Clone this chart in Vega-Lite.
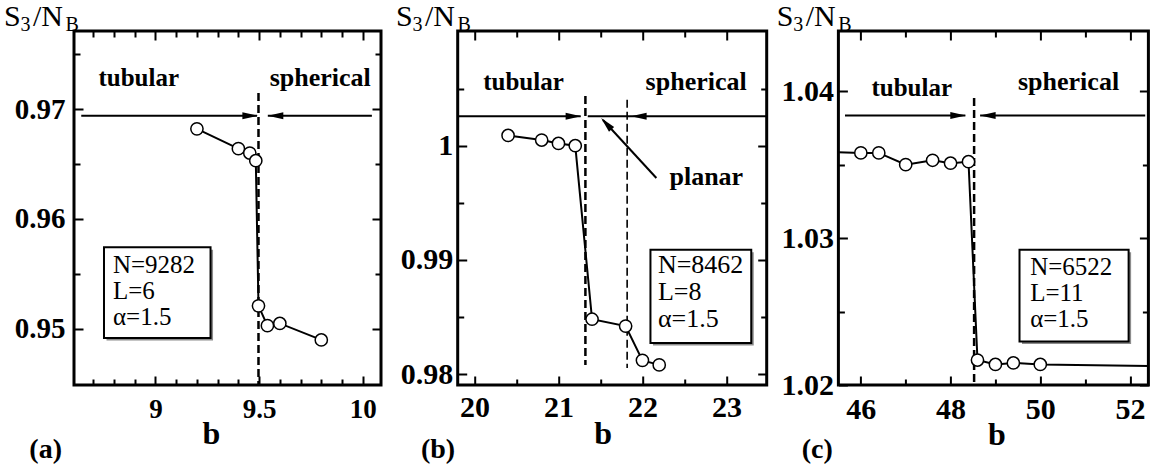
{
  "$schema": "https://vega.github.io/schema/vega-lite/v6.json",
  "background": "white",
  "padding": {"left": 2, "top": 0, "right": 0, "bottom": 0},
  "autosize": {"type": "pad"},
  "config": {
    "view": {"stroke": "black", "strokeWidth": 3},
    "text": {"font": "Liberation Serif", "fontWeight": "normal", "fill": "black"},
    "axis": {
      "domain": false, "grid": false, "tickColor": "black", "tickWidth": 2,
      "labelColor": "black", "labelFont": "Liberation Serif", "labelFontWeight": "bold", "labelFlush": false,
      "labelOverlap": false, "labelBound": false, "minExtent": 0,
      "titleFont": "Liberation Serif", "titleFontWeight": "bold", "titleFontSize": 32, "titleColor": "black"
    }
  },
  "datasets": {
    "one": [{}],
    "a": [
      {"b": 9.2, "s": 0.9682}, {"b": 9.4, "s": 0.9664}, {"b": 9.455, "s": 0.966},
      {"b": 9.484, "s": 0.9653}, {"b": 9.497, "s": 0.9521}, {"b": 9.54, "s": 0.9503},
      {"b": 9.6, "s": 0.9505}, {"b": 9.8, "s": 0.949}
    ],
    "b": [
      {"b": 20.4, "s": 1.0009}, {"b": 20.8, "s": 1.0005}, {"b": 21.0, "s": 1.0002},
      {"b": 21.2, "s": 1.0}, {"b": 21.4, "s": 0.9848}, {"b": 21.8, "s": 0.9842},
      {"b": 22.0, "s": 0.9812}, {"b": 22.2, "s": 0.9808}
    ],
    "c": [
      {"b": 45.0, "s": 1.0359}, {"b": 46.0, "s": 1.0358}, {"b": 46.4, "s": 1.0358},
      {"b": 47.0, "s": 1.035}, {"b": 47.6, "s": 1.0353}, {"b": 48.0, "s": 1.0351},
      {"b": 48.4, "s": 1.0352}, {"b": 48.6, "s": 1.0217}, {"b": 49.0, "s": 1.0214},
      {"b": 49.4, "s": 1.0215}, {"b": 50.0, "s": 1.0214}, {"b": 53.0, "s": 1.02127}
    ]
  },
  "bounds": "flush",
  "spacing": 76.7,
  "hconcat": [
    {
      "width": 307, "height": 354,
      "resolve": {"axis": {"x": "independent", "y": "independent"}},
      "layer": [
        {"data": {"name": "one"}, "mark": {"type": "rect", "fill": "#8c8c8c", "xOffset": 2.5, "x2Offset": 2.5, "yOffset": 2.5, "y2Offset": 2.5},
         "encoding": {"x": {"datum": 8.7517, "axis": null}, "x2": {"datum": 9.2657}, "y": {"datum": 0.95743, "axis": null}, "y2": {"datum": 0.94918}}},
        {"data": {"name": "one"}, "mark": {"type": "rect", "fill": "white", "stroke": "black", "strokeWidth": 2},
         "encoding": {"x": {"datum": 8.7517, "axis": null}, "x2": {"datum": 9.2657}, "y": {"datum": 0.95743, "axis": null}, "y2": {"datum": 0.94918}}},
        {"data": {"name": "one"}, "mark": {"type": "text", "text": ["N=9282", "L=6", "α=1.5"], "align": "left", "baseline": "alphabetic", "fontSize": 25, "lineHeight": 26},
         "encoding": {"x": {"datum": 8.795, "axis": null}, "y": {"datum": 0.95509, "axis": null}}},
        {"data": {"name": "one"}, "mark": {"type": "rule", "color": "black", "strokeWidth": 2.5, "strokeDash": [8, 4]},
         "encoding": {"x": {"datum": 9.497, "axis": null}, "y": {"datum": 0.97145, "axis": null}, "y2": {"datum": 0.9449}}},
        {"data": {"name": "one"}, "mark": {"type": "rule", "color": "black", "strokeWidth": 2},
         "encoding": {"x": {"datum": 8.642, "axis": null}, "x2": {"datum": 9.49}, "y": {"datum": 0.96939, "axis": null}}},
        {"data": {"name": "one"}, "mark": {"type": "rule", "color": "black", "strokeWidth": 2},
         "encoding": {"x": {"datum": 9.542, "axis": null}, "x2": {"datum": 10.044}, "y": {"datum": 0.96939, "axis": null}}},
        {"data": {"name": "one"}, "mark": {"type": "point", "shape": "M0,0L-2,-0.45L-2,0.45Z", "filled": true, "color": "black", "size": 240, "opacity": 1},
         "encoding": {"x": {"datum": 9.494, "axis": null}, "y": {"datum": 0.96939, "axis": null}}},
        {"data": {"name": "one"}, "mark": {"type": "point", "shape": "M0,0L2,-0.45L2,0.45Z", "filled": true, "color": "black", "size": 240, "opacity": 1},
         "encoding": {"x": {"datum": 9.542, "axis": null}, "y": {"datum": 0.96939, "axis": null}}},
        {"data": {"name": "a"}, "mark": {"type": "line", "color": "black", "strokeWidth": 2},
         "encoding": {
           "x": {"field": "b", "type": "quantitative", "scale": {"domain": [8.607, 10.088], "nice": false, "zero": false},
                 "axis": {"orient": "bottom", "values": [8.7, 8.8, 8.9, 9, 9.1, 9.2, 9.3, 9.4, 9.5, 9.6, 9.7, 9.8, 9.9, 10],
                          "labelExpr": "abs(datum.value*2-round(datum.value*2))<0.001 ? format(datum.value,'~g') : ''",
                          "tickSize": {"condition": {"test": "abs(datum.value*2-round(datum.value*2))<0.001", "value": -9}, "value": -6},
                          "labelFontSize": 27, "labelPadding": 20,
                          "title": "b", "titleX": 137, "titleY": 58, "titleAlign": "center", "titleBaseline": "alphabetic"}},
           "y": {"field": "s", "type": "quantitative", "scale": {"domain": [0.9449, 0.9771], "nice": false, "zero": false},
                 "axis": {"orient": "left", "values": [0.95, 0.955, 0.96, 0.965, 0.97, 0.975],
                          "labelExpr": "abs(datum.value*100-round(datum.value*100))<0.001 ? format(datum.value,'.2f') : ''",
                          "tickSize": {"condition": {"test": "abs(datum.value*100-round(datum.value*100))<0.001", "value": -9}, "value": -6},
                          "labelFontSize": 29, "labelPadding": 18, "title": null}}
         }},
        {"data": {"name": "a"}, "mark": {"type": "point", "shape": "circle", "filled": true, "fill": "white", "stroke": "black", "strokeWidth": 1.5, "size": 150, "opacity": 1},
         "encoding": {
           "x": {"field": "b", "type": "quantitative",
                 "axis": {"orient": "top", "values": [8.7, 8.8, 8.9, 9, 9.1, 9.2, 9.3, 9.4, 9.5, 9.6, 9.7, 9.8, 9.9, 10], "labels": false, "title": null,
                          "tickSize": {"condition": {"test": "abs(datum.value*2-round(datum.value*2))<0.001", "value": -9}, "value": -6}}},
           "y": {"field": "s", "type": "quantitative",
                 "axis": {"orient": "right", "values": [0.95, 0.955, 0.96, 0.965, 0.97, 0.975], "labels": false, "title": null,
                          "tickSize": {"condition": {"test": "abs(datum.value*100-round(datum.value*100))<0.001", "value": -9}, "value": -6}}}
         }},
        {"data": {"name": "one"}, "mark": {"type": "text", "text": "tubular", "align": "center", "baseline": "alphabetic", "fontSize": 25, "fontWeight": "bold"},
         "encoding": {"x": {"datum": 8.9194, "axis": null}, "y": {"datum": 0.97206, "axis": null}}},
        {"data": {"name": "one"}, "mark": {"type": "text", "text": "spherical", "align": "center", "baseline": "alphabetic", "fontSize": 26, "fontWeight": "bold"},
         "encoding": {"x": {"datum": 9.7946, "axis": null}, "y": {"datum": 0.97206, "axis": null}}},
        {"data": {"name": "one"}, "mark": {"type": "text", "text": "S", "align": "left", "baseline": "alphabetic", "fontSize": 30},
         "encoding": {"x": {"datum": 8.2695, "axis": null}, "y": {"datum": 0.97752, "axis": null}}},
        {"data": {"name": "one"}, "mark": {"type": "text", "text": "3", "align": "left", "baseline": "alphabetic", "fontSize": 20, "dx": 16.5, "dy": 5},
         "encoding": {"x": {"datum": 8.2695, "axis": null}, "y": {"datum": 0.97752, "axis": null}}},
        {"data": {"name": "one"}, "mark": {"type": "text", "text": "/N", "align": "left", "baseline": "alphabetic", "fontSize": 30, "dx": 29},
         "encoding": {"x": {"datum": 8.2695, "axis": null}, "y": {"datum": 0.97752, "axis": null}}},
        {"data": {"name": "one"}, "mark": {"type": "text", "text": "B", "align": "left", "baseline": "alphabetic", "fontSize": 20, "dx": 61.5, "dy": 5},
         "encoding": {"x": {"datum": 8.2695, "axis": null}, "y": {"datum": 0.97752, "axis": null}}},
        {"data": {"name": "one"}, "mark": {"type": "text", "text": "(a)", "align": "left", "baseline": "alphabetic", "fontSize": 28, "fontWeight": "bold"},
         "encoding": {"x": {"datum": 8.3915, "axis": null}, "y": {"datum": 0.93827, "axis": null}}}
      ]
    },
    {
      "bounds": "flush",
      "spacing": 71.7,
      "hconcat": [
        {
          "width": 309, "height": 354,
          "resolve": {"axis": {"x": "independent", "y": "independent"}},
          "layer": [
            {"data": {"name": "one"}, "mark": {"type": "rect", "fill": "#8c8c8c", "xOffset": 2.5, "x2Offset": 2.5, "yOffset": 2.5, "y2Offset": 2.5},
             "encoding": {"x": {"datum": 22.0956, "axis": null}, "x2": {"datum": 23.296}, "y": {"datum": 0.99089, "axis": null}, "y2": {"datum": 0.98272}}},
            {"data": {"name": "one"}, "mark": {"type": "rect", "fill": "white", "stroke": "black", "strokeWidth": 2},
             "encoding": {"x": {"datum": 22.0956, "axis": null}, "x2": {"datum": 23.296}, "y": {"datum": 0.99089, "axis": null}, "y2": {"datum": 0.98272}}},
            {"data": {"name": "one"}, "mark": {"type": "text", "text": ["N=8462", "L=8", "α=1.5"], "align": "left", "baseline": "alphabetic", "fontSize": 26, "lineHeight": 27},
             "encoding": {"x": {"datum": 22.184, "axis": null}, "y": {"datum": 0.98885, "axis": null}}},
            {"data": {"name": "one"}, "mark": {"type": "rule", "color": "black", "strokeWidth": 2.5, "strokeDash": [8, 4]},
             "encoding": {"x": {"datum": 21.3209, "axis": null}, "y": {"datum": 1.00435, "axis": null}, "y2": {"datum": 0.98079}}},
            {"data": {"name": "one"}, "mark": {"type": "rule", "color": "black", "strokeWidth": 1.6, "strokeDash": [8, 4]},
             "encoding": {"x": {"datum": 21.818, "axis": null}, "y": {"datum": 1.00403, "axis": null}, "y2": {"datum": 0.98053}}},
            {"data": {"name": "one"}, "mark": {"type": "rule", "color": "black", "strokeWidth": 2},
             "encoding": {"x": {"datum": 19.8, "axis": null}, "x2": {"datum": 21.265}, "y": {"datum": 1.002576, "axis": null}}},
            {"data": {"name": "one"}, "mark": {"type": "rule", "color": "black", "strokeWidth": 2},
             "encoding": {"x": {"datum": 21.349, "axis": null}, "x2": {"datum": 23.475}, "y": {"datum": 1.002576, "axis": null}}},
            {"data": {"name": "one"}, "mark": {"type": "rule", "color": "black", "strokeWidth": 2},
             "encoding": {"x": {"datum": 22.166, "axis": null}, "x2": {"datum": 21.53}, "y": {"datum": 0.99717, "axis": null}, "y2": {"datum": 1.00225}}},
            {"data": {"name": "one"}, "mark": {"type": "point", "shape": "M0,0L-2,-0.45L-2,0.45Z", "filled": true, "color": "black", "size": 240, "opacity": 1},
             "encoding": {"x": {"datum": 21.2696, "axis": null}, "y": {"datum": 1.002576, "axis": null}}},
            {"data": {"name": "one"}, "mark": {"type": "point", "shape": "M0,0L2,-0.45L2,0.45Z", "filled": true, "color": "black", "size": 240, "opacity": 1},
             "encoding": {"x": {"datum": 21.8655, "axis": null}, "y": {"datum": 1.002576, "axis": null}}},
            {"data": {"name": "one"}, "mark": {"type": "point", "shape": "M0,0L-2,-0.45L-2,0.45Z", "filled": true, "color": "black", "size": 240, "opacity": 1, "angle": 227.5},
             "encoding": {"x": {"datum": 21.508, "axis": null}, "y": {"datum": 1.00243, "axis": null}}},
            {"data": {"name": "b"}, "mark": {"type": "line", "color": "black", "strokeWidth": 2},
             "encoding": {
               "x": {"field": "b", "type": "quantitative", "scale": {"domain": [19.8, 23.48], "nice": false, "zero": false},
                     "axis": {"orient": "bottom", "values": [20, 20.5, 21, 21.5, 22, 22.5, 23],
                              "labelExpr": "abs(datum.value-round(datum.value))<0.001 ? format(datum.value,'~g') : ''",
                              "tickSize": {"condition": {"test": "abs(datum.value-round(datum.value))<0.001", "value": -9}, "value": -6},
                              "labelFontSize": 30, "labelPadding": 16,
                              "title": "b", "titleX": 145, "titleY": 58, "titleAlign": "center", "titleBaseline": "alphabetic"}},
               "y": {"field": "s", "type": "quantitative", "scale": {"domain": [0.97904, 1.01005], "nice": false, "zero": false},
                     "axis": {"orient": "left", "values": [0.98, 0.985, 0.99, 0.995, 1, 1.005],
                              "labelExpr": "abs(datum.value*100-round(datum.value*100))<0.001 ? (abs(datum.value-1)<0.0001 ? '1' : format(datum.value,'.2f')) : ''",
                              "tickSize": {"condition": {"test": "abs(datum.value*100-round(datum.value*100))<0.001", "value": -9}, "value": -6},
                              "labelFontSize": 30, "labelPadding": 14, "title": null}}
             }},
            {"data": {"name": "b"}, "mark": {"type": "point", "shape": "circle", "filled": true, "fill": "white", "stroke": "black", "strokeWidth": 1.5, "size": 150, "opacity": 1},
             "encoding": {
               "x": {"field": "b", "type": "quantitative",
                     "axis": {"orient": "top", "values": [20, 20.5, 21, 21.5, 22, 22.5, 23], "labels": false, "title": null,
                              "tickSize": {"condition": {"test": "abs(datum.value-round(datum.value))<0.001", "value": -9}, "value": -6}}},
               "y": {"field": "s", "type": "quantitative",
                     "axis": {"orient": "right", "values": [0.98, 0.985, 0.99, 0.995, 1, 1.005], "labels": false, "title": null,
                              "tickSize": {"condition": {"test": "abs(datum.value*100-round(datum.value*100))<0.001", "value": -9}, "value": -6}}}
             }},
            {"data": {"name": "one"}, "mark": {"type": "text", "text": "tubular", "align": "center", "baseline": "alphabetic", "fontSize": 25, "fontWeight": "bold"},
             "encoding": {"x": {"datum": 20.584, "axis": null}, "y": {"datum": 1.00491, "axis": null}}},
            {"data": {"name": "one"}, "mark": {"type": "text", "text": "spherical", "align": "center", "baseline": "alphabetic", "fontSize": 26, "fontWeight": "bold"},
             "encoding": {"x": {"datum": 22.64, "axis": null}, "y": {"datum": 1.00491, "axis": null}}},
            {"data": {"name": "one"}, "mark": {"type": "text", "text": "planar", "align": "left", "baseline": "alphabetic", "fontSize": 26, "fontWeight": "bold"},
             "encoding": {"x": {"datum": 22.322, "axis": null}, "y": {"datum": 0.99658, "axis": null}}},
            {"data": {"name": "one"}, "mark": {"type": "text", "text": "S", "align": "left", "baseline": "alphabetic", "fontSize": 30},
             "encoding": {"x": {"datum": 19.0646, "axis": null}, "y": {"datum": 1.01046, "axis": null}}},
            {"data": {"name": "one"}, "mark": {"type": "text", "text": "3", "align": "left", "baseline": "alphabetic", "fontSize": 20, "dx": 16.5, "dy": 5},
             "encoding": {"x": {"datum": 19.0646, "axis": null}, "y": {"datum": 1.01046, "axis": null}}},
            {"data": {"name": "one"}, "mark": {"type": "text", "text": "/N", "align": "left", "baseline": "alphabetic", "fontSize": 30, "dx": 29},
             "encoding": {"x": {"datum": 19.0646, "axis": null}, "y": {"datum": 1.01046, "axis": null}}},
            {"data": {"name": "one"}, "mark": {"type": "text", "text": "B", "align": "left", "baseline": "alphabetic", "fontSize": 20, "dx": 61.5, "dy": 5},
             "encoding": {"x": {"datum": 19.0646, "axis": null}, "y": {"datum": 1.01046, "axis": null}}},
            {"data": {"name": "one"}, "mark": {"type": "text", "text": "(b)", "align": "left", "baseline": "alphabetic", "fontSize": 28, "fontWeight": "bold"},
             "encoding": {"x": {"datum": 19.3626, "axis": null}, "y": {"datum": 0.97264, "axis": null}}}
          ]
        },
        {
          "width": 310, "height": 354,
          "resolve": {"axis": {"x": "independent", "y": "independent"}},
          "layer": [
            {"data": {"name": "one"}, "mark": {"type": "rect", "fill": "#8c8c8c", "xOffset": 2.5, "x2Offset": 2.5, "yOffset": 2.5, "y2Offset": 2.5},
             "encoding": {"x": {"datum": 49.537, "axis": null}, "x2": {"datum": 51.969}, "y": {"datum": 1.0292, "axis": null}, "y2": {"datum": 1.02296}}},
            {"data": {"name": "one"}, "mark": {"type": "rect", "fill": "white", "stroke": "black", "strokeWidth": 2},
             "encoding": {"x": {"datum": 49.537, "axis": null}, "x2": {"datum": 51.969}, "y": {"datum": 1.0292, "axis": null}, "y2": {"datum": 1.02296}}},
            {"data": {"name": "one"}, "mark": {"type": "text", "text": ["N=6522", "L=11", "α=1.5"], "align": "left", "baseline": "alphabetic", "fontSize": 25, "lineHeight": 26},
             "encoding": {"x": {"datum": 49.774, "axis": null}, "y": {"datum": 1.0275, "axis": null}}},
            {"data": {"name": "one"}, "mark": {"type": "rule", "color": "black", "strokeWidth": 2.5, "strokeDash": [8, 4]},
             "encoding": {"x": {"datum": 48.525, "axis": null}, "y": {"datum": 1.03954, "axis": null}, "y2": {"datum": 1.0201}}},
            {"data": {"name": "one"}, "mark": {"type": "rule", "color": "black", "strokeWidth": 2},
             "encoding": {"x": {"datum": 45.647, "axis": null}, "x2": {"datum": 48.33}, "y": {"datum": 1.03834, "axis": null}}},
            {"data": {"name": "one"}, "mark": {"type": "rule", "color": "black", "strokeWidth": 2},
             "encoding": {"x": {"datum": 48.659, "axis": null}, "x2": {"datum": 52.339}, "y": {"datum": 1.03834, "axis": null}}},
            {"data": {"name": "one"}, "mark": {"type": "point", "shape": "M0,0L-2,-0.45L-2,0.45Z", "filled": true, "color": "black", "size": 240, "opacity": 1},
             "encoding": {"x": {"datum": 48.34, "axis": null}, "y": {"datum": 1.03834, "axis": null}}},
            {"data": {"name": "one"}, "mark": {"type": "point", "shape": "M0,0L2,-0.45L2,0.45Z", "filled": true, "color": "black", "size": 240, "opacity": 1},
             "encoding": {"x": {"datum": 48.659, "axis": null}, "y": {"datum": 1.03834, "axis": null}}},
            {"data": {"name": "c"}, "mark": {"type": "line", "color": "black", "strokeWidth": 2, "clip": true},
             "encoding": {
               "x": {"field": "b", "type": "quantitative", "scale": {"domain": [45.5, 52.41], "nice": false, "zero": false},
                     "axis": {"orient": "bottom", "values": [46, 47, 48, 49, 50, 51, 52],
                              "labelExpr": "abs(datum.value/2-round(datum.value/2))<0.001 ? format(datum.value,'~g') : ''",
                              "tickSize": {"condition": {"test": "abs(datum.value/2-round(datum.value/2))<0.001", "value": -9}, "value": -6},
                              "labelFontSize": 30, "labelPadding": 18,
                              "title": "b", "titleX": 158, "titleY": 59, "titleAlign": "center", "titleBaseline": "alphabetic"}},
               "y": {"field": "s", "type": "quantitative", "scale": {"domain": [1.02, 1.0441], "nice": false, "zero": false},
                     "axis": {"orient": "left", "values": [1.02, 1.025, 1.03, 1.035, 1.04],
                              "labelExpr": "abs(datum.value*100-round(datum.value*100))<0.001 ? format(datum.value,'.2f') : ''",
                              "tickSize": {"condition": {"test": "abs(datum.value*100-round(datum.value*100))<0.001", "value": -9}, "value": -6},
                              "labelFontSize": 30, "labelPadding": 14, "title": null}}
             }},
            {"data": {"name": "c"}, "mark": {"type": "point", "shape": "circle", "filled": true, "fill": "white", "stroke": "black", "strokeWidth": 1.5, "size": 150, "opacity": 1, "clip": true},
             "encoding": {
               "x": {"field": "b", "type": "quantitative",
                     "axis": {"orient": "top", "values": [46, 47, 48, 49, 50, 51, 52], "labels": false, "title": null,
                              "tickSize": {"condition": {"test": "abs(datum.value/2-round(datum.value/2))<0.001", "value": -9}, "value": -6}}},
               "y": {"field": "s", "type": "quantitative",
                     "axis": {"orient": "right", "values": [1.02, 1.025, 1.03, 1.035, 1.04], "labels": false, "title": null,
                              "tickSize": {"condition": {"test": "abs(datum.value*100-round(datum.value*100))<0.001", "value": -9}, "value": -6}}}
             }},
            {"data": {"name": "one"}, "mark": {"type": "text", "text": "tubular", "align": "center", "baseline": "alphabetic", "fontSize": 25, "fontWeight": "bold"},
             "encoding": {"x": {"datum": 47.135, "axis": null}, "y": {"datum": 1.03966, "axis": null}}},
            {"data": {"name": "one"}, "mark": {"type": "text", "text": "spherical", "align": "center", "baseline": "alphabetic", "fontSize": 26, "fontWeight": "bold"},
             "encoding": {"x": {"datum": 50.63, "axis": null}, "y": {"datum": 1.04006, "axis": null}}},
            {"data": {"name": "one"}, "mark": {"type": "text", "text": "S", "align": "left", "baseline": "alphabetic", "fontSize": 30},
             "encoding": {"x": {"datum": 44.1237, "axis": null}, "y": {"datum": 1.04443, "axis": null}}},
            {"data": {"name": "one"}, "mark": {"type": "text", "text": "3", "align": "left", "baseline": "alphabetic", "fontSize": 20, "dx": 16.5, "dy": 5},
             "encoding": {"x": {"datum": 44.1237, "axis": null}, "y": {"datum": 1.04443, "axis": null}}},
            {"data": {"name": "one"}, "mark": {"type": "text", "text": "/N", "align": "left", "baseline": "alphabetic", "fontSize": 30, "dx": 29},
             "encoding": {"x": {"datum": 44.1237, "axis": null}, "y": {"datum": 1.04443, "axis": null}}},
            {"data": {"name": "one"}, "mark": {"type": "text", "text": "B", "align": "left", "baseline": "alphabetic", "fontSize": 20, "dx": 61.5, "dy": 5},
             "encoding": {"x": {"datum": 44.1237, "axis": null}, "y": {"datum": 1.04443, "axis": null}}},
            {"data": {"name": "one"}, "mark": {"type": "text", "text": "(c)", "align": "left", "baseline": "alphabetic", "fontSize": 28, "fontWeight": "bold"},
             "encoding": {"x": {"datum": 44.681, "axis": null}, "y": {"datum": 1.015, "axis": null}}}
          ]
        }
      ]
    }
  ]
}
